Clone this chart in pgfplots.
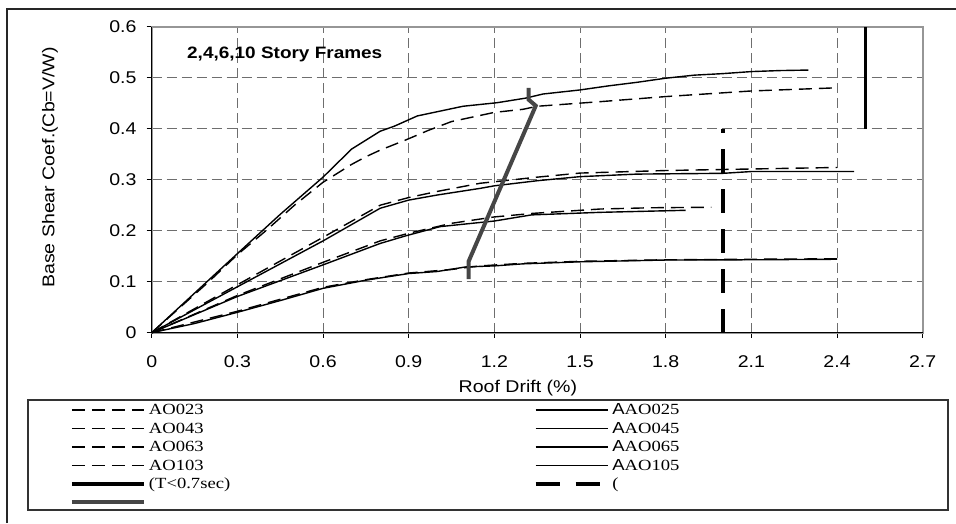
\documentclass[border=0pt]{standalone}
\usepackage{fontspec}
\setmainfont{Liberation Serif}
\newfontfamily\axfont{Liberation Sans}[FakeStretch=1.15]
\newfontfamily\lgfont{Liberation Serif}[FakeStretch=1.2]
\usepackage{pgfplots}
\pgfplotsset{compat=1.18}
\definecolor{grayline}{RGB}{70,70,70}
\definecolor{gridgray}{RGB}{110,110,110}
\definecolor{framegray}{RGB}{150,150,150}
\begin{document}
\begin{tikzpicture}
\begin{axis}[
  at={(151.7pt,190.3pt)}, anchor=south west,
  scale only axis, width=771pt, height=306pt,
  xmin=0, xmax=2.7, ymin=0, ymax=0.6,
  clip=false,
  xtick={0,0.3,0.6,0.9,1.2,1.5,1.8,2.1,2.4,2.7},
  xticklabels={0,0.3,0.6,0.9,1.2,1.5,1.8,2.1,2.4,2.7},
  ytick={0,0.1,0.2,0.3,0.4,0.5,0.6},
  yticklabels={0,0.1,0.2,0.3,0.4,0.5,0.6},
  tick align=outside, xtick pos=bottom, ytick pos=left,
  major tick length=5pt,
  every tick/.style={black, line width=0.8pt},
  grid=major,
  grid style={dash pattern=on 10pt off 5pt, color=gridgray, line width=0.8pt},
  axis line style={draw=framegray, line width=1.8pt},
  /pgf/number format/assume math mode=true,
  ticklabel style={font=\axfont\fontsize{17}{20}\selectfont},
  xticklabel style={anchor=base, inner sep=0pt, yshift=-30pt},
  yticklabel style={anchor=east, inner sep=0pt, xshift=-10pt},
  xlabel={Roof Drift (\%)},
  ylabel={Base Shear Coef.(Cb=V/W)},
  every axis x label/.style={at={(axis description cs:0.475,-0.197)}, anchor=base, font=\axfont\fontsize{17}{20}\selectfont},
  every axis y label/.style={at={(axis description cs:-0.132,0.54)}, anchor=center, rotate=90, font=\axfont\fontsize{17}{20}\selectfont},
  legend columns=2,
  legend cell align=left,
  legend image code/.code={\draw[#1] (0pt,0pt) -- (72pt,0pt);},
  legend style={draw=none, fill=none, at={(axis description cs:-0.106,-0.2297)}, anchor=north west,
    inner sep=0pt, outer sep=0pt, row sep=4.5pt,
    nodes={inner sep=0pt, text height=12pt, text depth=2pt, font=\lgfont\fontsize{15.5}{17}\selectfont},
    /tikz/every odd column/.append style={column sep=3pt}},
]
% AO023 (dashed, 2-story)
\addplot[black, line width=1.4pt, dash pattern=on 13pt off 7pt] coordinates {
(0,0) (0.1,0.05) (0.2,0.1) (0.3,0.153) (0.4,0.2) (0.5,0.25) (0.6,0.295) (0.7,0.33) (0.75,0.345) (0.8,0.358) (0.89,0.378) (0.97,0.397) (1.05,0.414) (1.2,0.432) (1.3,0.438) (1.35,0.444) (1.57,0.453) (1.8,0.463) (2.1,0.474) (2.39,0.48)};
\addlegendentry{\makebox[385pt][l]{AO023}}
% AAO025 (solid)
\addplot[black, line width=1.4pt] coordinates {
(0,0) (0.3,0.155) (0.45,0.232) (0.6,0.305) (0.7,0.36) (0.8,0.395) (0.85,0.405) (0.93,0.425) (1.09,0.444) (1.21,0.451) (1.31,0.46) (1.37,0.468) (1.5,0.476) (1.6,0.484) (1.7,0.491) (1.8,0.499) (1.9,0.505) (2.0,0.508) (2.1,0.512) (2.2,0.514) (2.3,0.515)};
\addlegendentry{{\axfont\fontsize{16}{17}\selectfont A}AO025}
% AO043
\addplot[black, line width=1.4pt, dash pattern=on 13pt off 7pt] coordinates {
(0,0) (0.3,0.094) (0.6,0.187) (0.8,0.25) (0.9,0.265) (1.0,0.277) (1.15,0.293) (1.2,0.296) (1.35,0.305) (1.5,0.313) (1.8,0.318) (2.1,0.321) (2.4,0.324)};
\addlegendentry{\makebox[385pt][l]{AO043}}
% AAO045
\addplot[black, line width=1.4pt] coordinates {
(0,0) (0.3,0.09) (0.6,0.18) (0.8,0.244) (0.9,0.26) (1.0,0.27) (1.15,0.283) (1.2,0.288) (1.35,0.298) (1.5,0.306) (1.7,0.311) (2.0,0.3125) (2.1,0.316) (2.46,0.316)};
\addlegendentry{{\axfont\fontsize{16}{17}\selectfont A}AO045}
% AO063
\addplot[black, line width=1.4pt, dash pattern=on 13pt off 7pt] coordinates {
(0,0) (0.3,0.073) (0.6,0.138) (0.8,0.18) (0.9,0.195) (1.05,0.2145) (1.2,0.227) (1.335,0.234) (1.57,0.2425) (1.75,0.245) (1.96,0.246)};
\addlegendentry{\makebox[385pt][l]{AO063}}
% AAO065
\addplot[black, line width=1.4pt] coordinates {
(0,0) (0.3,0.071) (0.6,0.133) (0.8,0.175) (0.89,0.19) (1.01,0.208) (1.2,0.219) (1.33,0.231) (1.57,0.236) (1.87,0.24)};
\addlegendentry{{\axfont\fontsize{16}{17}\selectfont A}AO065}
% AO103
\addplot[black, line width=1.4pt, dash pattern=on 13pt off 7pt] coordinates {
(0,0) (0.3,0.042) (0.6,0.089) (0.75,0.104) (0.9,0.117) (1.05,0.124) (1.15,0.131) (1.3,0.136) (1.5,0.14) (1.8,0.143) (2.1,0.144) (2.42,0.145)};
\addlegendentry{\makebox[385pt][l]{AO103}}
% AAO105
\addplot[black, line width=1.4pt] coordinates {
(0,0) (0.15,0.018) (0.3,0.04) (0.45,0.063) (0.6,0.087) (0.75,0.103) (0.9,0.116) (1.0,0.12) (1.1,0.129) (1.2,0.131) (1.3,0.135) (1.5,0.139) (1.8,0.1425) (2.1,0.143) (2.4,0.144)};
\addlegendentry{{\axfont\fontsize{16}{17}\selectfont A}AO105}
% T<0.7sec limit
\addplot[black, line width=3.3pt] coordinates {(2.5,0.4) (2.5,0.6)};
\addlegendentry{\makebox[385pt][l]{(T<0.7sec)}}
% long-period limit
\addplot[black, line width=3.5pt, dash pattern=on 24pt off 16pt] coordinates {(2.0,0) (2.0,0.4)};
\addlegendentry{(}
% gray yield line
\addplot[grayline, line width=4pt] coordinates {(1.11,0.105) (1.11,0.14) (1.345,0.445) (1.32,0.457) (1.32,0.48)};
\addlegendentry{\makebox[385pt][l]{}}
\draw[black, line width=1.1pt] (rel axis cs:0,1) -- (rel axis cs:0,0) -- (rel axis cs:1,0);
\node[anchor=base west, inner sep=0pt, font=\axfont\bfseries\fontsize{16.5}{19}\selectfont] at (axis cs:0.1236,0.5386) {2,4,6,10 Story Frames};
\end{axis}
\draw[black!80, line width=1.5pt] (28pt,13pt) rectangle (948pt,123pt);
\draw[black!85, line width=2pt] (7pt,0pt) -- (7pt,514pt) -- (957pt,514pt);
\pgfresetboundingbox
\useasboundingbox (0pt,0pt) rectangle (956pt,523pt);
\end{tikzpicture}
\end{document}
